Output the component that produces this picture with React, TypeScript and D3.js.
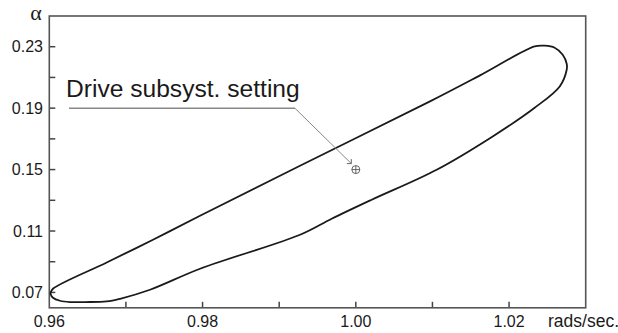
import { useEffect, useRef } from 'react';
import * as d3 from 'd3';

// loop traced clockwise from the left tip: upper branch, rounded cap, lower branch back
const loopX = [
  0.96018, 0.96048, 0.96749, 0.97353, 0.97967, 0.99272, 1.00968, 1.01621, 1.02334,
  1.02465, 1.02595, 1.027, 1.02752, 1.02752, 1.02661, 1.02334, 1.01786, 1.01055,
  1.00207, 0.99685, 0.99272, 0.97967, 0.97314, 0.96924, 0.96749, 0.96466, 0.9627, 0.9614,
  0.96048, 0.96018,
];
const loopY = [
  0.07, 0.07241, 0.08953, 0.10432, 0.11989, 0.1525, 0.19438, 0.21132, 0.2302,
  0.23065, 0.22935, 0.22479, 0.21893, 0.21502, 0.20415, 0.19028, 0.17159, 0.1499,
  0.13036, 0.11799, 0.10757, 0.08543, 0.07175, 0.06589, 0.06414, 0.06375, 0.06375, 0.06459,
  0.06655, 0.06883,
];

const xTicks = [0.96, 0.97, 0.98, 0.99, 1.0, 1.01, 1.02];
const xLabels = [0.96, 0.98, 1.0, 1.02];
const yTicks = [0.07, 0.09, 0.11, 0.13, 0.15, 0.17, 0.19, 0.21, 0.23];
const yLabels = [0.07, 0.11, 0.15, 0.19, 0.23];
const setting = { x: 1.0, y: 0.15, label: 'Drive subsyst. setting' };

export default function App() {
  const ref = useRef<SVGSVGElement | null>(null);
  useEffect(() => {
    const W = 618, H = 333;
    const svg = d3.select(ref.current!);
    svg.selectAll('*').remove();
    const m = { top: 16, right: 32.3, bottom: 25.2, left: 49.3 };
    const x = d3.scaleLinear().domain([0.96, 1.03]).range([m.left, W - m.right]);
    const y = d3.scaleLinear().domain([0.06, 0.25]).range([H - m.bottom, m.top]);
    const font = 'Liberation Sans, Arial, sans-serif';

    // ticks pointing inward
    svg.append('g').selectAll('line').data(xTicks.slice(1)).enter().append('line')
      .attr('x1', (d) => x(d)).attr('x2', (d) => x(d)).attr('y1', y(0.06)).attr('y2', y(0.06) - 6)
      .attr('stroke', '#444').attr('stroke-width', 1.5);
    svg.append('g').selectAll('line').data(yTicks).enter().append('line')
      .attr('x1', x(0.96)).attr('x2', x(0.96) + 6).attr('y1', (d) => y(d)).attr('y2', (d) => y(d))
      .attr('stroke', '#444').attr('stroke-width', 1.5);

    svg.append('rect').attr('x', x(0.96)).attr('y', y(0.25))
      .attr('width', x(1.03) - x(0.96)).attr('height', y(0.06) - y(0.25))
      .attr('fill', 'none').attr('stroke', '#555').attr('stroke-width', 1.6);

    svg.append('g').selectAll('text').data(xLabels).enter().append('text')
      .attr('x', (d) => x(d)).attr('y', 327).attr('text-anchor', 'middle')
      .attr('font-family', font).attr('font-size', 16).attr('fill', '#1a1a1a')
      .text((d) => d.toFixed(2));
    svg.append('text').attr('x', 548).attr('y', 327)
      .attr('font-family', font).attr('font-size', 17.5).attr('fill', '#1a1a1a').text('rads/sec.');

    svg.append('g').selectAll('text').data(yLabels).enter().append('text')
      .attr('x', 43).attr('y', (d) => y(d)).attr('dy', '0.36em').attr('text-anchor', 'end')
      .attr('font-family', font).attr('font-size', 16).attr('fill', '#1a1a1a')
      .text((d) => d.toFixed(2));
    svg.append('text').attr('x', 36).attr('y', 20).attr('text-anchor', 'middle')
      .attr('font-family', 'Liberation Serif, serif').attr('font-size', 22).attr('fill', '#1a1a1a').text('α');

    const pts = loopX.map((v, i) => [v, loopY[i]] as [number, number]);
    const line = d3.line<[number, number]>().x((d) => x(d[0])).y((d) => y(d[1])).curve(d3.curveCatmullRomClosed.alpha(0.5));
    svg.append('path').datum(pts).attr('d', line as any).attr('fill', 'none')
      .attr('stroke', '#1a1a1a').attr('stroke-width', 1.8).attr('stroke-linejoin', 'round');

    // annotation
    const px = x(setting.x), py = y(setting.y);
    svg.append('text').attr('x', 66).attr('y', 97).attr('font-family', font).attr('font-size', 24.6)
      .attr('fill', '#1a1a1a').text(setting.label);
    const ax = px - 4.5, ay = py - 6;
    svg.append('path').attr('d', `M69,108.3 L295,108.3`).attr('stroke', '#888').attr('stroke-width', 1.5).attr('fill', 'none');
    svg.append('path').attr('d', `M295,108.3 L${ax},${ay}`).attr('stroke', '#888').attr('stroke-width', 1).attr('fill', 'none');
    svg.append('path').attr('d', `M${ax - 4.5},${ay} L${ax},${ay} L${ax},${ay - 4.5}`)
      .attr('stroke', '#666').attr('stroke-width', 1).attr('fill', 'none');
    svg.append('circle').attr('cx', px).attr('cy', py).attr('r', 4)
      .attr('fill', 'none').attr('stroke', '#555').attr('stroke-width', 0.9);
    svg.append('path').attr('d', `M${px - 4},${py} L${px + 4},${py} M${px},${py - 4} L${px},${py + 4}`)
      .attr('stroke', '#555').attr('stroke-width', 0.9);
  }, []);
  return (
    <svg ref={ref} width={618} height={333}
      style={{ position: 'absolute', left: 0, top: 0, background: '#fff', display: 'block' }} />
  );
}
